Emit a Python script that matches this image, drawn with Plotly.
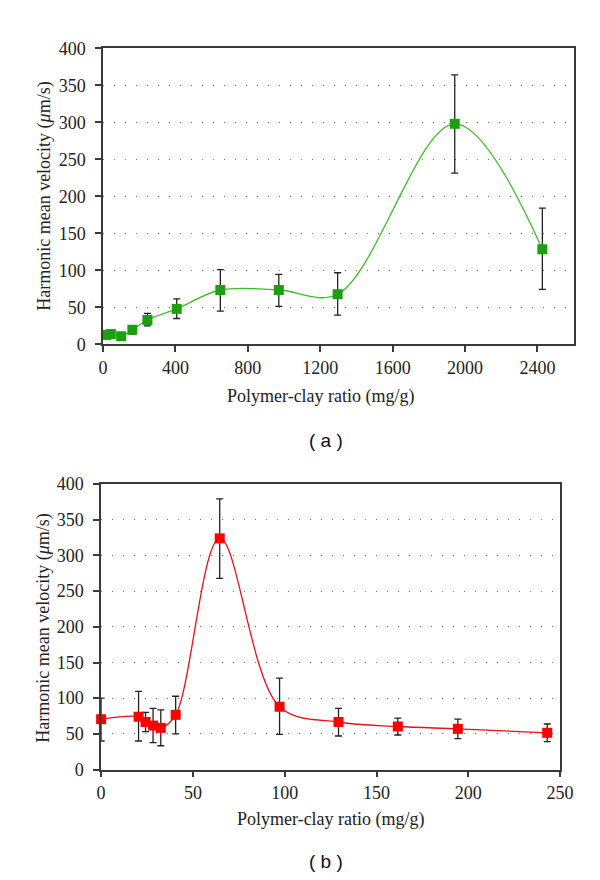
import plotly.graph_objects as go

# ---- Panel (a) ----
a_x = [16, 43, 100, 162, 245, 407, 648, 971, 1296, 1943, 2427]
a_y = [12.8, 14, 11, 19.8, 33, 48, 73.5, 73.5, 67.8, 298, 128.5]
a_hi = [15, 16, 13, 25, 41.8, 61.6, 101, 94.6, 96.8, 364, 184]
a_lo = [10.5, 12, 9, 14, 25, 35, 45, 51.5, 39.6, 231.5, 74.3]

# ---- Panel (b) ----
b_x = [0, 20.4, 24.2, 28.3, 32.5, 40.6, 64.6, 97.2, 129.3, 161.6, 194.3, 243]
b_y = [70.5, 74, 66.6, 61.6, 58.4, 76.7, 324, 88, 66.6, 60.3, 57, 51.5]
b_hi = [100, 109.6, 80, 85.8, 83.5, 102.7, 379.5, 128, 85.8, 72, 70.7, 63.8]
b_lo = [40, 40, 53, 37.8, 33.3, 50, 268, 49.3, 47, 48.4, 43.3, 39]

y_ticks = [0, 50, 100, 150, 200, 250, 300, 350, 400]
a_xticks = [0, 400, 800, 1200, 1600, 2000, 2400]
b_xticks = [0, 50, 100, 150, 200, 250]

FONT = "Liberation Serif"
W, H = 600, 880

fig = go.Figure()

def add_series(x, y, hi, lo, color, line_color, xa, ya):
    fig.add_trace(go.Scatter(
        x=x, y=y, mode="lines+markers",
        line=dict(color=line_color, width=1.3, shape="spline", smoothing=1.0),
        marker=dict(symbol="square", size=10, color=color),
        error_y=dict(type="data", symmetric=False,
                     array=[h - v for h, v in zip(hi, y)],
                     arrayminus=[v - l for l, v in zip(lo, y)],
                     color="#222222", thickness=1.3, width=3.5),
        xaxis=xa, yaxis=ya, showlegend=False, cliponaxis=False))

add_series(a_x, a_y, a_hi, a_lo, "#1e9e12", "#3cbf20", "x", "y")
add_series(b_x, b_y, b_hi, b_lo, "#ff0000", "#e8101a", "x2", "y2")

def px_dom_x(l, r):
    return [l / W, r / W]

def px_dom_y(t, b):
    return [1 - b / H, 1 - t / H]

axis_common = dict(
    showline=True, linecolor="#3a3a3a", linewidth=1.5, mirror=True,
    ticks="outside", ticklen=6, tickcolor="#3a3a3a", tickwidth=1.5,
    zeroline=False,
    tickfont=dict(family=FONT, size=18, color="#222222"),
)

fig.update_layout(
    width=W, height=H, margin=dict(l=0, r=0, t=0, b=0),
    paper_bgcolor="white", plot_bgcolor="white",
    xaxis=dict(domain=px_dom_x(93, 579), range=[0, 2600], tickvals=a_xticks,
               showgrid=False, anchor="y", **axis_common),
    yaxis=dict(domain=px_dom_y(31, 334), range=[0, 400], tickvals=y_ticks,
               showgrid=True, gridcolor="#777777", gridwidth=1, griddash="1px,10px",
               anchor="x", ticklabelstandoff=6, **axis_common),
    xaxis2=dict(domain=px_dom_x(91, 565), range=[0, 250], tickvals=b_xticks,
                showgrid=False, anchor="y2", **axis_common),
    yaxis2=dict(domain=px_dom_y(477, 769), range=[0, 400], tickvals=y_ticks,
                showgrid=True, gridcolor="#777777", gridwidth=1, griddash="1px,10px",
                anchor="x2", ticklabelstandoff=6, **axis_common),
)

title_font = dict(family=FONT, size=18, color="#222222")
ann = [
    dict(text="Polymer-clay ratio (mg/g)", x=318 / W, y=1 - 387 / H),
    dict(text="Polymer-clay ratio (mg/g)", x=328 / W, y=1 - 820 / H),
    dict(text="Harmonic mean velocity (<i>μ</i>m/s)", x=33 / W, y=1 - 182 / H, textangle=-90),
    dict(text="Harmonic mean velocity (<i>μ</i>m/s)", x=32 / W, y=1 - 624 / H, textangle=-90),
]
for a in ann:
    fig.add_annotation(xref="paper", yref="paper", showarrow=False,
                       xanchor="center", yanchor="middle", font=title_font, **a)

for lab, yy in [("( a )", 432), ("( b )", 863)]:
    fig.add_annotation(text=lab, xref="paper", yref="paper", x=323 / W, y=1 - yy / H,
                       showarrow=False, xanchor="center", yanchor="middle",
                       font=dict(family="Liberation Sans", size=19, color="#111111"))

fig.write_html("out.html")
